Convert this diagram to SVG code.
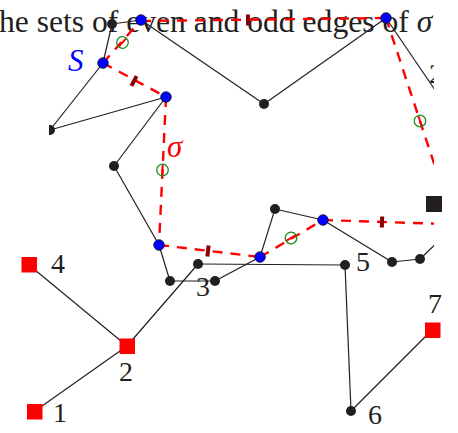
<svg xmlns="http://www.w3.org/2000/svg" width="458" height="433" viewBox="0 0 458 433">
<defs>
<clipPath id="clip"><rect x="49" y="0" width="385" height="433"/></clipPath>
<style>
.e{stroke:#231f20;stroke-width:1.2;fill:none}
.d{stroke:#ff0000;stroke-width:2.4;stroke-dasharray:10 8;fill:none}
.bn{fill:#231f20}
.blue{fill:#0000ff;stroke:#111;stroke-width:0.8}
.sq{fill:#ff0000}
.tick{fill:#8b0000}
.gm circle{fill:none;stroke:#1e8a1e;stroke-width:1.3}
.gm line{stroke:#ff0000;stroke-width:2}
.lbl{font-family:"Liberation Serif",serif;font-size:28px;fill:#231f20}
.cap{font-family:"Liberation Serif",serif;font-size:31.6px;fill:#231f20}
.it{font-family:"Liberation Serif",serif;font-style:italic;font-size:31px}
</style>
</defs>
<rect width="458" height="433" fill="#fff"/>
<text class="cap" x="-1" y="32">he sets of even and odd edges of <tspan font-style="italic">σ</tspan></text>
<g id="connectors">
<g clip-path="url(#clip)">
<line class="e" x1="112" y1="24" x2="141" y2="20"/>
<line class="e" x1="112" y1="24" x2="103" y2="63"/>
<line class="e" x1="103" y1="63" x2="50" y2="130"/>
<line class="e" x1="50" y1="130" x2="166" y2="97"/>
<line class="e" x1="166" y1="97" x2="114" y2="166"/>
<line class="e" x1="114" y1="166" x2="159" y2="245"/>
<line class="e" x1="141" y1="20" x2="264" y2="104"/>
<line class="e" x1="264" y1="104" x2="386" y2="18"/>
<line class="e" x1="386" y1="18" x2="448" y2="109"/>
<line class="e" x1="159" y1="245" x2="170" y2="281"/>
<line class="e" x1="170" y1="281" x2="215" y2="281"/>
<line class="e" x1="198" y1="264" x2="345" y2="265"/>
<line class="e" x1="198" y1="264" x2="127" y2="346"/>
<line class="e" x1="215" y1="281" x2="260" y2="257"/>
<line class="e" x1="260" y1="257" x2="275" y2="209"/>
<line class="e" x1="275" y1="209" x2="323" y2="220"/>
<line class="e" x1="323" y1="220" x2="392" y2="262"/>
<line class="e" x1="392" y1="262" x2="420" y2="259"/>
<line class="e" x1="420" y1="259" x2="442" y2="238"/>
<line class="e" x1="345" y1="265" x2="351" y2="411"/>
<line class="e" x1="351" y1="411" x2="432" y2="330"/>
<line class="d" x1="103" y1="63" x2="141" y2="20"/>
<line class="d" x1="141" y1="21" x2="386" y2="18"/>
<line class="d" x1="386" y1="18" x2="454" y2="224"/>
<line class="d" x1="323" y1="220" x2="445" y2="224"/>
<line class="d" x1="260" y1="257" x2="323" y2="220"/>
<line class="d" x1="159" y1="245" x2="260" y2="257"/>
<line class="d" x1="166" y1="97" x2="159" y2="245"/>
<line class="d" x1="103" y1="63" x2="166" y2="97"/>
<g class="tick">
<rect x="-2" y="-5.5" width="4" height="11" transform="translate(134 81) rotate(28.4)"/>
<rect x="-2" y="-5.5" width="4" height="11" transform="translate(248 20) rotate(-0.5)"/>
<rect x="-2" y="-5.5" width="4" height="11" transform="translate(208 251) rotate(6.8)"/>
<rect x="-2" y="-5.5" width="4" height="11" transform="translate(382 222) rotate(1.6)"/>
</g>
<g class="gm" transform="translate(122.5 42.5) rotate(-48.5)"><line x1="-5.5" y1="0" x2="5.5" y2="0"/><circle r="5.8"/></g>
<g class="gm" transform="translate(162.5 170) rotate(92.7)"><line x1="-5.5" y1="0" x2="5.5" y2="0"/><circle r="5.8"/></g>
<g class="gm" transform="translate(291 238) rotate(-30.4)"><line x1="-5.5" y1="0" x2="5.5" y2="0"/><circle r="5.8"/></g>
<g class="gm" transform="translate(420 121) rotate(71.7)"><line x1="-5.5" y1="0" x2="5.5" y2="0"/><circle r="5.8"/></g>
<text class="lbl" x="429" y="83">2</text>
</g>
<line class="e" x1="29" y1="265" x2="127" y2="346"/>
<line class="e" x1="35" y1="411" x2="127" y2="346"/>
</g>
<g id="nodes" clip-path="url(#clip)">
<g id="nA"><circle class="bn" cx="112" cy="24" r="5"/></g>
<g id="nB"><circle class="blue" cx="141" cy="20" r="5.3"/></g>
<g id="nS"><circle class="blue" cx="103" cy="63" r="5.3"/></g>
<g id="nC"><circle class="blue" cx="166" cy="97" r="5.3"/></g>
<g id="nH"><circle class="bn" cx="50" cy="130" r="5"/></g>
<g id="nD"><circle class="bn" cx="114" cy="166" r="5"/></g>
<g id="nE"><circle class="blue" cx="159" cy="245" r="5.3"/></g>
<g id="nF"><circle class="bn" cx="264" cy="104" r="5"/></g>
<g id="nG"><circle class="blue" cx="386" cy="18" r="5.3"/></g>
<g id="nI"><circle class="bn" cx="170" cy="281" r="5"/></g>
<g id="nJ"><circle class="bn" cx="215" cy="281" r="5"/></g>
<g id="nK"><circle class="bn" cx="198" cy="264" r="5"/></g>
<g id="nL"><circle class="bn" cx="345" cy="265" r="5"/></g>
<g id="nM"><circle class="blue" cx="260" cy="257" r="5.3"/></g>
<g id="nN"><circle class="bn" cx="275" cy="209" r="5"/></g>
<g id="nO"><circle class="blue" cx="323" cy="220" r="5.3"/></g>
<g id="nP"><circle class="bn" cx="392" cy="262" r="5"/></g>
<g id="nQ"><circle class="bn" cx="420" cy="259" r="5"/></g>
<g id="nR"><circle class="bn" cx="351" cy="411" r="5"/></g>
</g>
<g id="squares">
<g id="sqBlack"><rect x="426" y="196" width="16" height="16" fill="#231f20"/></g>
<g id="sq1"><rect class="sq" x="27" y="404" width="15.5" height="15.5"/></g>
<g id="sq2"><rect class="sq" x="119.5" y="338.5" width="15.5" height="15.5"/></g>
<g id="sq4"><rect class="sq" x="21.5" y="257" width="15.5" height="15.5"/></g>
<g id="sq7"><rect class="sq" x="425" y="322.5" width="15.5" height="15.5"/></g>
</g>
<g id="labels">
<text class="lbl" x="53" y="422">1</text>
<text class="lbl" x="119" y="381">2</text>
<text class="lbl" x="196" y="296">3</text>
<text class="lbl" x="51" y="273">4</text>
<text class="lbl" x="356" y="271">5</text>
<text class="lbl" x="368" y="424">6</text>
<text class="lbl" x="428" y="313">7</text>
<text class="it" x="68" y="71" fill="#0000ff">S</text>
<text class="it" x="167" y="157" fill="#ff0000">σ</text>
</g>
</svg>
